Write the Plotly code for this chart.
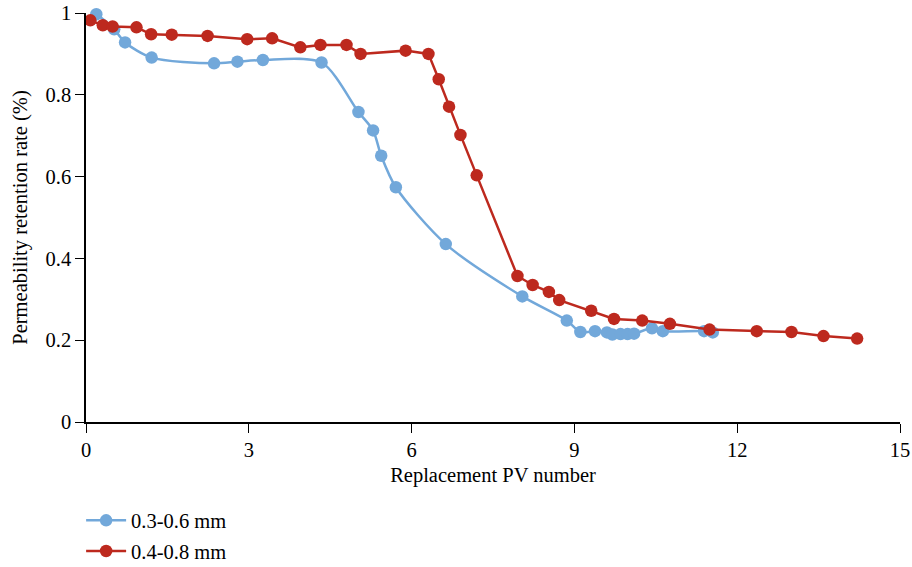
import plotly.graph_objects as go

# Data
blue_x = [0.06, 0.19, 0.52, 0.72, 1.21, 2.36, 2.79, 3.26, 4.34, 5.02, 5.29, 5.44, 5.71,
          6.63, 8.04, 8.86, 9.11, 9.38, 9.6, 9.7, 9.85, 9.98, 10.1, 10.43, 10.63, 11.39, 11.55]
blue_y = [1.005, 0.997, 0.96, 0.928, 0.891, 0.877, 0.881, 0.885, 0.879, 0.758, 0.713, 0.651, 0.574,
          0.435, 0.307, 0.248, 0.22, 0.222, 0.219, 0.214, 0.215, 0.215, 0.216, 0.229, 0.222, 0.222, 0.219]

red_x = [0.08, 0.31, 0.49, 0.93, 1.20, 1.58, 2.24, 2.97, 3.43, 3.95, 4.32, 4.80, 5.06, 5.89, 6.31,
         6.50, 6.69, 6.90, 7.20, 7.95, 8.23, 8.53, 8.72, 9.31, 9.73, 10.25, 10.76, 11.49,
         12.36, 13.0, 13.59, 14.21]
red_y = [0.982, 0.970, 0.967, 0.965, 0.948, 0.947, 0.944, 0.936, 0.938, 0.916, 0.922, 0.922, 0.900, 0.908, 0.900,
         0.838, 0.771, 0.702, 0.603, 0.357, 0.335, 0.318, 0.298, 0.272, 0.252, 0.248, 0.240, 0.226,
         0.222, 0.220, 0.210, 0.204]

x_ticks = [0, 3, 6, 9, 12, 15]
y_ticks = [0, 0.2, 0.4, 0.6, 0.8, 1]
y_tick_text = ["0", "0.2", "0.4", "0.6", "0.8", "1"]

BLUE = "#72a8da"
RED = "#bd291e"
FONT = "Liberation Serif"
FS = 20.5

fig = go.Figure()
fig.add_trace(go.Scatter(
    x=blue_x, y=blue_y, mode="lines+markers", name="0.3-0.6 mm",
    line=dict(color=BLUE, width=2.5, shape="spline", smoothing=0.8),
    marker=dict(color=BLUE, size=12.5), cliponaxis=False, legendgroup="a"))
fig.add_trace(go.Scatter(
    x=red_x, y=red_y, mode="lines+markers", name="0.4-0.8 mm",
    line=dict(color=RED, width=2.5),
    marker=dict(color=RED, size=12.5), cliponaxis=False, legendgroup="b"))

axis_common = dict(showline=True, linecolor="black", linewidth=1.5, ticks="outside",
                   ticklen=9, tickcolor="black", showgrid=False, zeroline=False,
                   automargin=False, ticklabeloverflow="allow",
                   tickfont=dict(family=FONT, size=FS, color="black"))

fig.update_layout(
    width=912, height=567,
    margin=dict(l=86, r=12, t=13, b=145, autoexpand=False),
    plot_bgcolor="white", paper_bgcolor="white",
    font=dict(family=FONT, size=FS, color="black"),
    xaxis=dict(range=[0, 15], tickvals=x_ticks,
               title=dict(text="Replacement PV number", font=dict(family=FONT, size=FS), standoff=7),
               **axis_common),
    yaxis=dict(range=[0, 1], tickvals=y_ticks, ticktext=y_tick_text,
               title=dict(text="Permeability retention rate (%)", font=dict(family=FONT, size=FS), standoff=12),
               **axis_common),
    legend=dict(x=-0.006, y=-0.192, xanchor="left", yanchor="top", itemwidth=40,
                font=dict(family=FONT, size=FS), tracegroupgap=1, traceorder="grouped",
                bgcolor="rgba(0,0,0,0)"),
    showlegend=True,
)

fig.write_html("out.html")
